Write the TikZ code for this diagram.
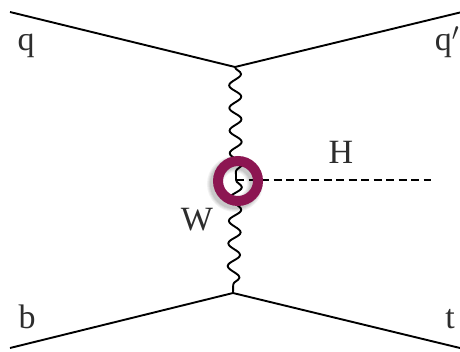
\documentclass[tikz,border=0pt]{standalone}
\usepackage{fontspec}
\setmainfont{Liberation Serif}
\usetikzlibrary{decorations.pathmorphing}
\definecolor{ringcol}{RGB}{140,22,82}
\definecolor{txt}{RGB}{45,45,45}
\begin{document}
\begin{tikzpicture}[x=1pt,y=-1pt,
  fermion/.style={line width=1.9pt,black},
  boson/.style={line width=1.9pt,black,decorate,decoration={snake,segment length=22.6pt,amplitude=6pt}},
  scalar/.style={line width=1.9pt,black,dash pattern=on 8pt off 4.5pt},
  lbl/.style={anchor=base,text=txt,font=\fontsize{34}{40}\selectfont,inner sep=0pt}]
\useasboundingbox (0,0) rectangle (460,351);
\fill[white] (0,0) rectangle (460,351);
% vertices and endpoints
\coordinate (v1) at (235,67);
\coordinate (v2) at (233,293);
\coordinate (c) at (236,180);
\coordinate (q1) at (10,12);
\coordinate (q2) at (462,12);
\coordinate (b1) at (10,348);
\coordinate (t1) at (460,348);
\coordinate (h) at (431,180);
% lines
\draw[fermion] (q1) -- (v1) -- (q2);
\draw[fermion] (b1) -- (v2) -- (t1);
\draw[boson] (v1) -- (c);
\draw[boson] (c) -- (v2);
\draw[scalar] (c) -- (h);
% ring shadow
\foreach \r/\o in {0/0.07,1/0.06,2/0.05,3/0.05} {
  \draw[black,opacity=\o,line width={10pt+2*\r pt}] (235,184) circle (20);
}
% ring
\draw[ringcol,line width=10pt] (238,181) circle (20);
% labels
\node[lbl] (lq) at (26,50) {q};
\node[lbl] (lqp) at (447,50) {q$'$};
\node[lbl] (lH) at (341,163) {H};
\node[lbl] (lW) at (197,230) {W};
\node[lbl] (lb) at (27,328) {b};
\node[lbl] (lt) at (450,328) {t};
\end{tikzpicture}
\end{document}
